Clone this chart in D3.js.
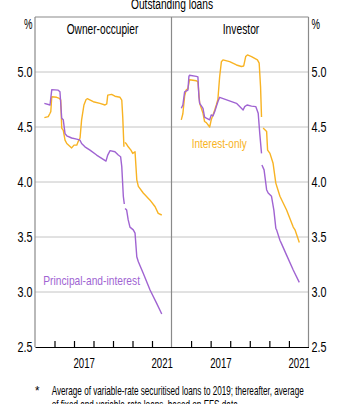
<!DOCTYPE html>
<html>
<head>
<meta charset="utf-8">
<script src="https://cdn.jsdelivr.net/npm/d3@7"></script>
<style>
  body { margin: 0; background: #fff; }
  svg text { font-family: "Liberation Sans", Arial, sans-serif; fill: #000; }
</style>
</head>
<body>
<script>
// rates, % -- [year, value], null marks the break in the series (2019 change of source)
var ownerPI = [[2015.48,4.715],[2015.77,4.70],[2015.86,4.84],[2016.19,4.835],[2016.28,4.82],[2016.37,4.58],[2016.45,4.565],
  [2016.54,4.44],[2016.63,4.42],[2016.88,4.40],[2017.14,4.39],[2017.31,4.38],[2017.39,4.35],[2017.56,4.32],[2017.82,4.29],
  [2018.16,4.245],[2018.42,4.215],[2018.64,4.19],[2018.73,4.245],[2018.85,4.285],[2019.10,4.275],[2019.27,4.245],[2019.39,4.23],
  [2019.45,4.14],[2019.53,3.87],[2019.58,3.80],null,[2019.62,3.76],[2019.70,3.745],[2019.78,3.655],[2019.87,3.59],[2020.04,3.565],
  [2020.13,3.535],[2020.22,3.32],[2020.30,3.275],[2020.55,3.17],[2020.90,3.018],[2021.24,2.897],[2021.50,2.80]];

var ownerIO = [[2015.48,4.585],[2015.68,4.595],[2015.77,4.625],[2015.81,4.64],[2015.86,4.775],[2016.11,4.77],[2016.25,4.76],
  [2016.32,4.745],[2016.37,4.49],[2016.45,4.47],[2016.54,4.38],[2016.63,4.35],[2016.88,4.31],[2017.00,4.335],[2017.14,4.335],
  [2017.22,4.37],[2017.31,4.40],[2017.39,4.565],[2017.51,4.70],[2017.62,4.75],[2017.68,4.757],[2017.99,4.73],[2018.33,4.715],
  [2018.59,4.70],[2018.68,4.71],[2018.73,4.79],[2018.93,4.797],[2019.10,4.78],[2019.36,4.77],[2019.45,4.745],[2019.50,4.59],
  [2019.56,4.32],null,[2019.62,4.36],[2019.70,4.343],[2019.78,4.32],[2019.92,4.29],[2020.01,4.26],[2020.13,4.275],[2020.22,4.02],
  [2020.30,3.96],[2020.55,3.90],[2020.90,3.835],[2021.16,3.775],[2021.32,3.715],[2021.50,3.70]];

var investorPI = [[2015.50,4.67],[2015.58,4.70],[2015.67,4.82],[2015.84,4.836],[2015.89,4.96],[2015.92,4.97],[2016.27,4.96],
  [2016.35,4.955],[2016.40,4.775],[2016.44,4.715],[2016.61,4.67],[2016.69,4.59],[2016.78,4.58],[2016.95,4.565],[2017.03,4.61],
  [2017.12,4.60],[2017.21,4.64],[2017.29,4.685],[2017.37,4.73],[2017.46,4.77],[2018.32,4.715],[2018.66,4.655],[2018.74,4.685],
  [2018.86,4.70],[2019.09,4.69],[2019.31,4.685],[2019.43,4.625],[2019.51,4.44],[2019.60,4.26],null,[2019.62,4.155],[2019.73,4.11],
  [2019.86,3.93],[2019.94,3.90],[2020.11,3.87],[2020.23,3.745],[2020.33,3.58],[2020.37,3.565],[2020.54,3.47],[2020.62,3.44],
  [2020.88,3.335],[2021.22,3.20],[2021.53,3.088]];

var investorIO = [[2015.50,4.565],[2015.58,4.62],[2015.67,4.78],[2015.75,4.836],[2015.84,4.85],[2015.92,4.93],[2016.27,4.92],
  [2016.35,4.91],[2016.44,4.715],[2016.61,4.625],[2016.69,4.55],[2016.78,4.54],[2016.95,4.50],[2017.03,4.565],[2017.12,4.61],
  [2017.21,4.655],[2017.29,4.70],[2017.37,4.75],[2017.46,4.957],[2017.55,5.094],[2017.63,5.11],[2017.97,5.094],[2018.32,5.064],
  [2018.57,5.05],[2018.69,5.055],[2018.79,5.14],[2018.88,5.155],[2019.09,5.14],[2019.39,5.11],[2019.48,5.08],[2019.55,4.867],
  [2019.60,4.59],null,[2019.68,4.49],[2019.86,4.46],[2019.91,4.29],[2020.03,4.26],[2020.19,4.17],[2020.33,3.99],[2020.54,3.87],
  [2020.88,3.745],[2021.22,3.59],[2021.31,3.565],[2021.53,3.45]];

var yTicks = [2.5, 3.0, 3.5, 4.0, 4.5, 5.0];
var yearTicks = [2016, 2017, 2018, 2019, 2020, 2021];
var yearLabels = [2017, 2021];
var panelTitles = ["Owner-occupier", "Investor"];

var purple = "#a064d2";
var orange = "#f8b323";

var svg = d3.select("body").append("svg")
  .attr("width", 343)
  .attr("height", 404);

var y = d3.scaleLinear().domain([2.5, 5.5]).range([347, 17]);
var xL = d3.scaleLinear().domain([2015, 2022]).range([35, 171.5]);
var xR = d3.scaleLinear().domain([2015, 2022]).range([171.5, 308.5]);

// text squeezed to a fixed width, like the narrow font of the original
function label(x, yy, str, size, len, colour) {
  return svg.append("text")
    .attr("x", x).attr("y", yy)
    .attr("font-size", size)
    .attr("textLength", len)
    .attr("lengthAdjust", "spacingAndGlyphs")
    .style("fill", colour || "#000")
    .text(str);
}
function narrow(g, size, len) {
  g.selectAll("text")
    .attr("font-size", size)
    .attr("font-family", null)
    .attr("textLength", len)
    .attr("lengthAdjust", "spacingAndGlyphs");
}

// gridlines
svg.append("g").selectAll("line")
  .data(yTicks.filter(function(d) { return d > 2.5; }))
  .join("line")
  .attr("x1", 35).attr("x2", 308.5)
  .attr("y1", function(d) { return y(d); })
  .attr("y2", function(d) { return y(d); })
  .attr("stroke", "#c4c4c4").attr("stroke-width", 1);

// panel frame
var frame = svg.append("g").attr("stroke", "#8a8a8a").attr("stroke-width", 1.2).attr("fill", "none");
frame.append("line").attr("x1", 35).attr("x2", 308.5).attr("y1", y(5.5)).attr("y2", y(5.5));
[35, 171.5, 308.5].forEach(function(px) {
  frame.append("line").attr("x1", px).attr("x2", px).attr("y1", y(5.5)).attr("y2", y(2.5));
});

// bottom axes with inward ticks and year labels centred in the year
[xL, xR].forEach(function(xs) {
  svg.append("g")
    .attr("transform", "translate(0," + y(2.5) + ")")
    .call(d3.axisBottom(xs).tickValues(yearTicks).tickSize(-6).tickFormat("").tickSizeOuter(0))
    .call(function(g) { g.selectAll("line, path").attr("stroke", "#000").attr("stroke-width", 1.2); });

  svg.append("g")
    .attr("transform", "translate(0," + y(2.5) + ")")
    .call(d3.axisBottom(xs).tickValues(yearLabels.map(function(d) { return d + 0.5; }))
      .tickSize(0).tickPadding(11).tickFormat(function(d) { return Math.floor(d); }))
    .call(function(g) {
      g.select(".domain").remove();
      narrow(g, 14, 21.5);
    });
});

// y axes, both sides
svg.append("g")
  .attr("transform", "translate(32.5,0)")
  .call(d3.axisLeft(y).tickValues(yTicks).tickSize(0).tickPadding(0).tickFormat(d3.format(".1f")))
  .call(function(g) {
    g.select(".domain").remove();
    narrow(g, 14, 15);
  });
svg.append("g")
  .attr("transform", "translate(311.5,0)")
  .call(d3.axisRight(y).tickValues(yTicks).tickSize(0).tickPadding(0).tickFormat(d3.format(".1f")))
  .call(function(g) {
    g.select(".domain").remove();
    narrow(g, 14, 15);
  });

label(24, 29, "%", 14, 8.5);
label(311.5, 29, "%", 14, 8.5);

// titles
label(131, 9, "Outstanding loans", 14, 82);
label(66.7, 34, panelTitles[0], 14, 71.7);
label(222.7, 34, panelTitles[1], 14, 36.6);

// lines
function drawLine(data, xs, colour) {
  var line = d3.line()
    .defined(function(d) { return d !== null; })
    .x(function(d) { return xs(d[0]); })
    .y(function(d) { return y(d[1]); });
  svg.append("path")
    .datum(data)
    .attr("d", line)
    .attr("fill", "none")
    .attr("stroke", colour)
    .attr("stroke-width", 1.4)
    .attr("stroke-linejoin", "round");
}
drawLine(ownerIO, xL, orange);
drawLine(ownerPI, xL, purple);
drawLine(investorIO, xR, orange);
drawLine(investorPI, xR, purple);

// series labels
label(191.7, 147.5, "Interest-only", 13.5, 55, orange);
label(43.3, 284.5, "Principal-and-interest", 13.5, 96.7, purple);

// footnote
label(35, 395, "*", 13, 4.5);
label(51.7, 395, "Average of variable-rate securitised loans to 2019; thereafter, average", 13, 252);
label(51.7, 409, "of fixed and variable-rate loans, based on EFS data", 13, 186);
</script>
</body>
</html>
